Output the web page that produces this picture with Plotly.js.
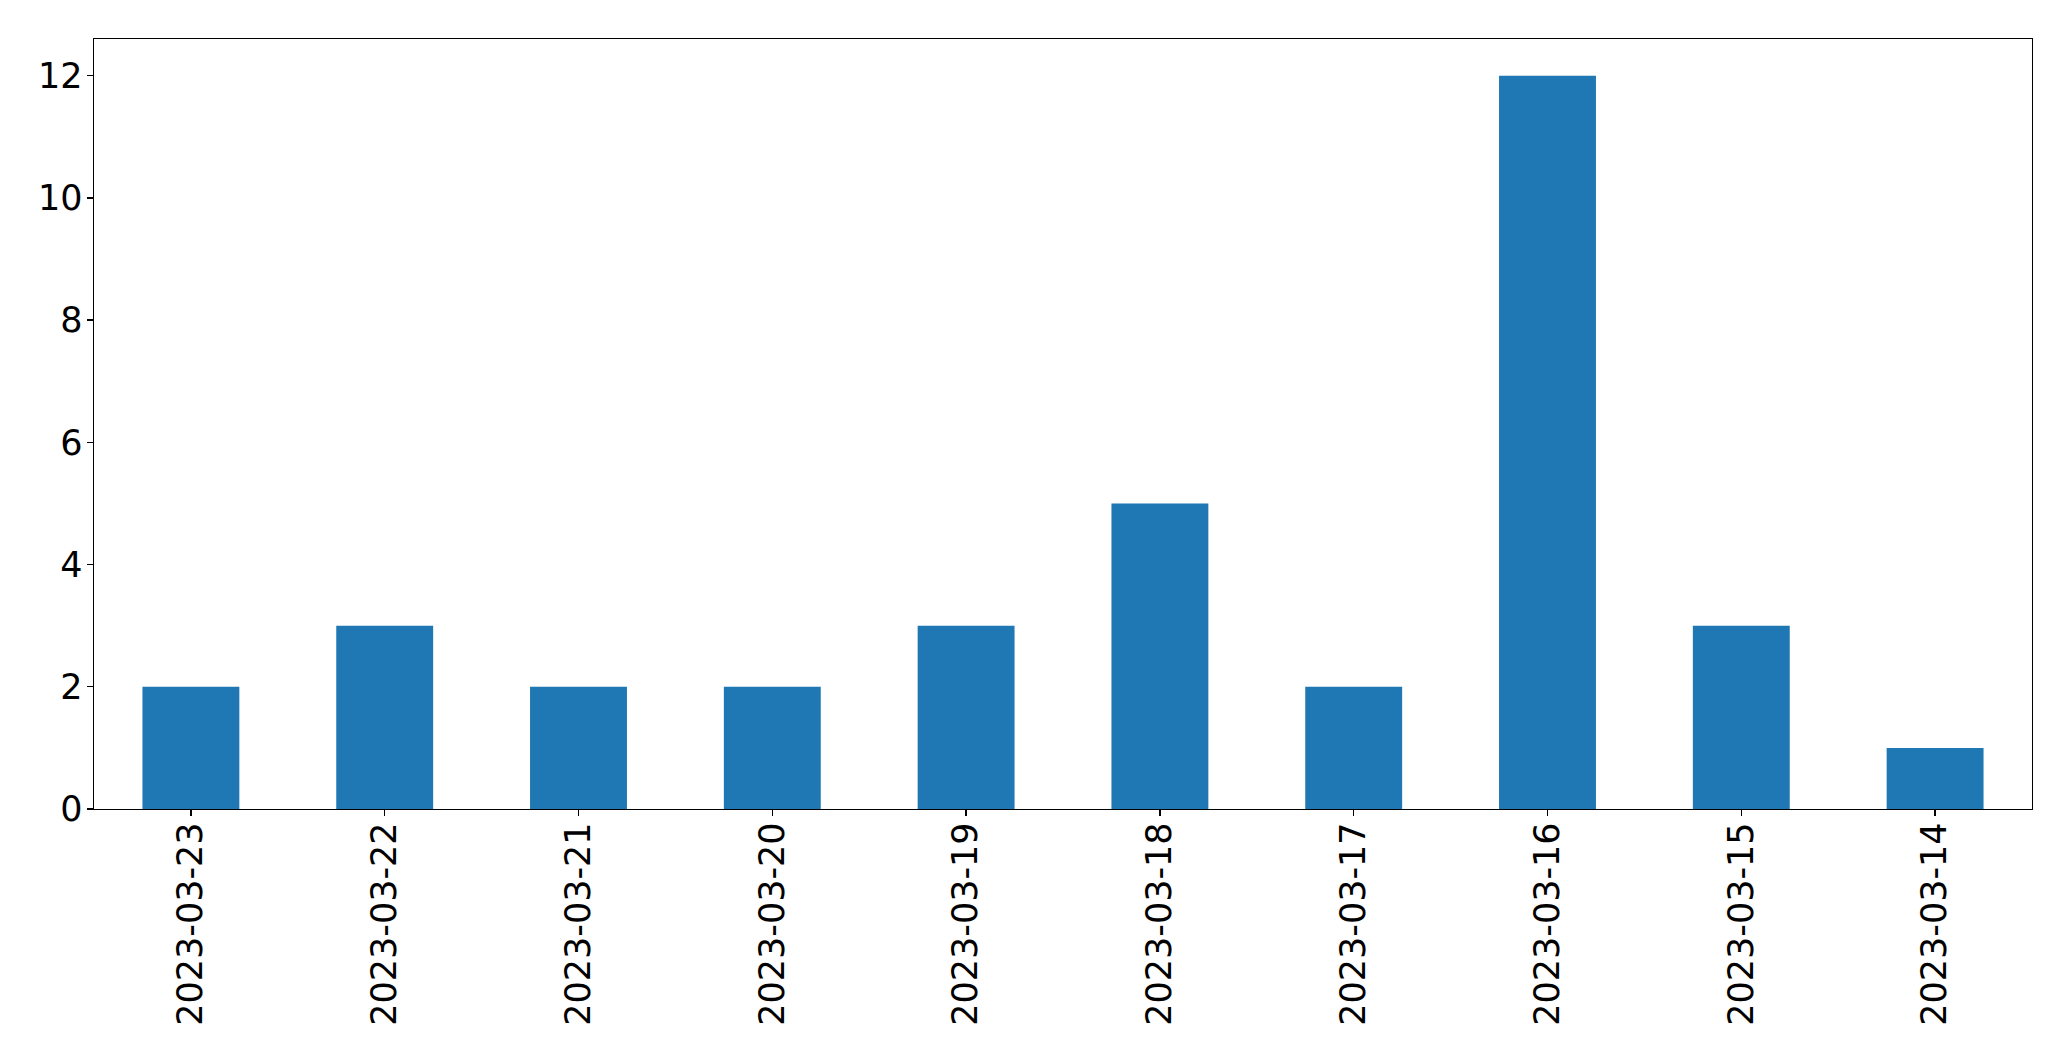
<!DOCTYPE html>
<html>
<head>
<meta charset="utf-8">
<script src="https://cdn.plot.ly/plotly-3.0.1.min.js"></script>
<style>html,body{margin:0;padding:0;background:#fff;}#chart{width:2071px;height:1061px;}</style>
</head>
<body>
<div id="chart"></div>
<script>
const dates = ["2023-03-23","2023-03-22","2023-03-21","2023-03-20","2023-03-19","2023-03-18","2023-03-17","2023-03-16","2023-03-15","2023-03-14"];
const counts = [2,3,2,2,3,5,2,12,3,1];
const yTicks = [0,2,4,6,8,10,12];

const trace = {
  type: 'bar',
  x: dates,
  y: counts,
  width: 0.5,
  marker: {color: '#1f77b4', line: {width: 0}},
  hoverinfo: 'x+y'
};
const font = {family: 'DejaVu Sans, sans-serif', size: 35, color: '#000'};
const layout = {
  width: 2071, height: 1061,
  margin: {l: 94, r: 39, t: 39, b: 252, pad: 0},
  paper_bgcolor: '#fff', plot_bgcolor: '#fff',
  showlegend: false,
  font: font,
  xaxis: {
    type: 'category',
    range: [-0.5, 9.5],
    tickangle: -90,
    showgrid: false, zeroline: false,
    showline: true, linecolor: '#000', linewidth: 1.4, mirror: true,
    ticks: 'outside', ticklen: 6, tickwidth: 1.4, tickcolor: '#000',
    tickfont: font, automargin: false, ticklabelstandoff: -8
  },
  yaxis: {
    range: [0, 12.6],
    tickvals: yTicks,
    ticktext: yTicks.map(String),
    showgrid: false, zeroline: false,
    showline: true, linecolor: '#000', linewidth: 1.4, mirror: true,
    ticks: 'outside', ticklen: 6, tickwidth: 1.4, tickcolor: '#000',
    tickfont: font, automargin: false, ticklabelstandoff: -3
  }
};
Plotly.newPlot('chart', [trace], layout, {displayModeBar: false, staticPlot: true});
</script>
</body>
</html>
